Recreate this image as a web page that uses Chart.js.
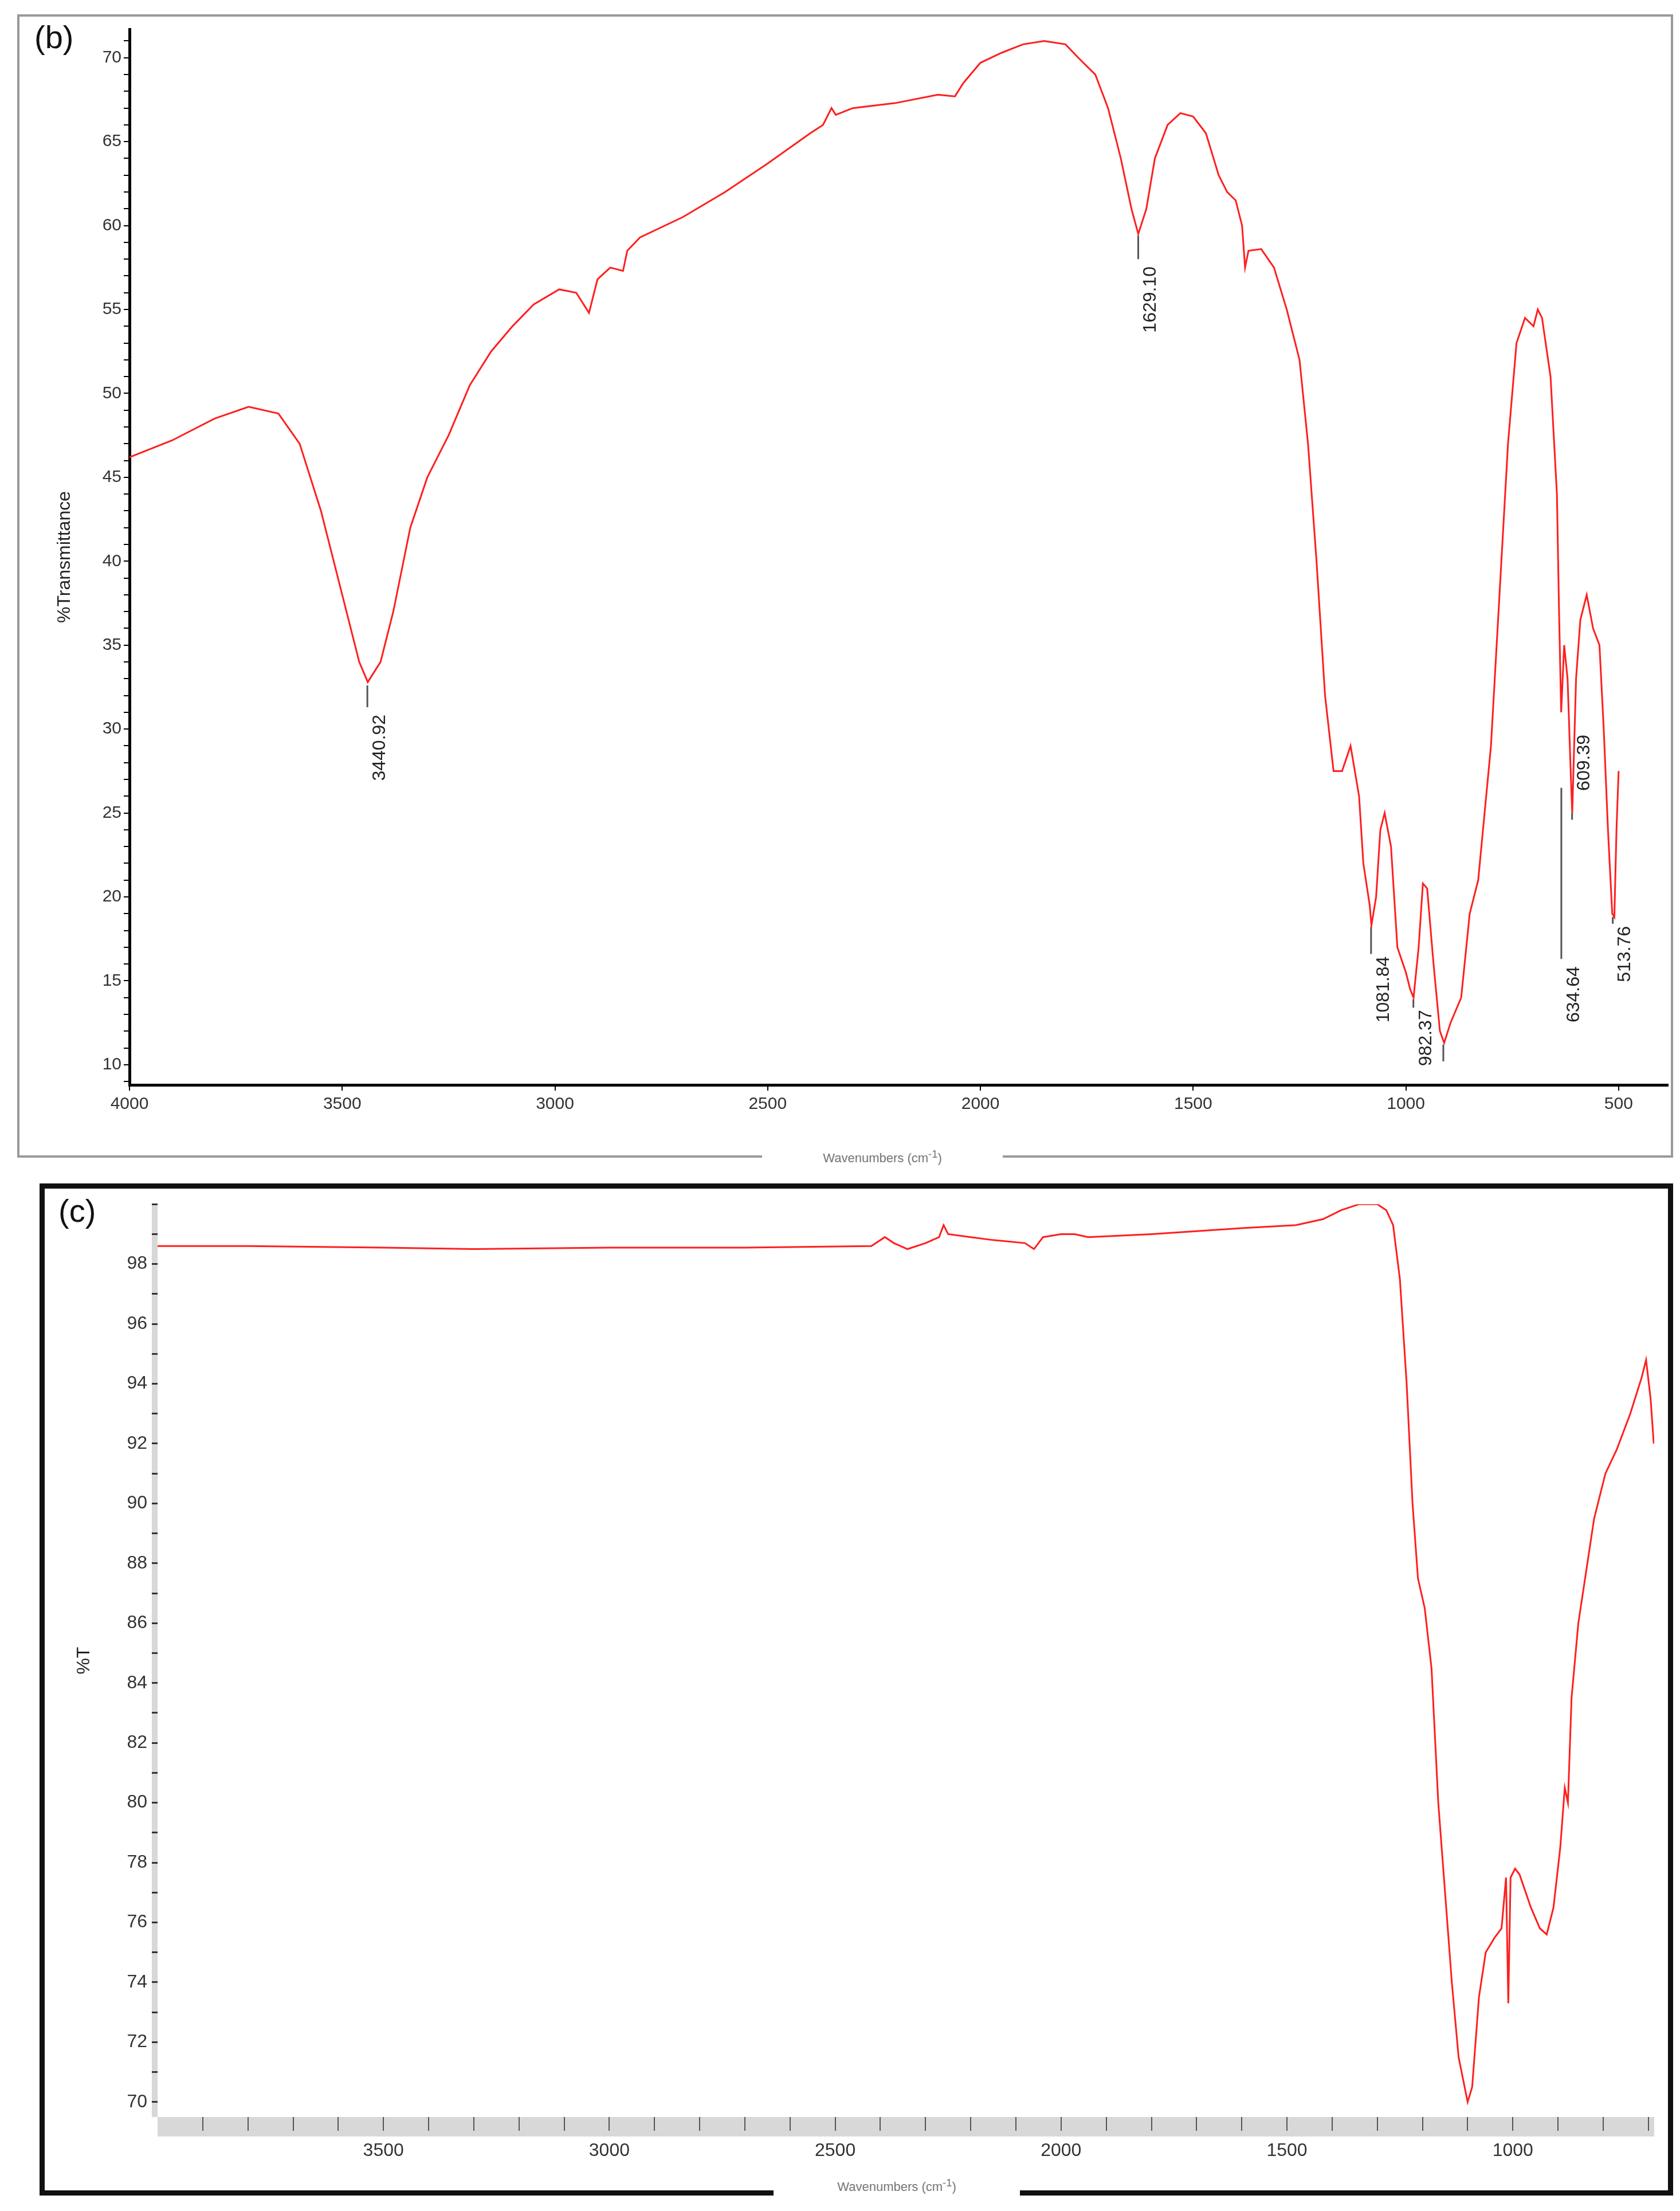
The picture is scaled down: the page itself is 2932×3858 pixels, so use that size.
<!DOCTYPE html>
<html>
<head>
<meta charset="utf-8">
<script src="https://cdn.jsdelivr.net/npm/chart.js@4.4.1/dist/chart.umd.min.js"></script>
<style>
  body { margin: 0; width: 2932px; height: 3858px; background: #fff; position: relative; font-family: "Liberation Sans", Arial, sans-serif; }
  .box { position: absolute; box-sizing: border-box; }
  #boxB { left: 30px; top: 25px; width: 2890px; height: 1995px; border: 4px solid #999; }
  #boxC { left: 69px; top: 2065px; width: 2851px; height: 1766px; border: 9px solid #111; }
  canvas { position: absolute; left: 0; top: 0; }
  .tag { position: absolute; font-size: 56px; color: #111; }
  .xt { position: absolute; background: #fff; color: #777; font-size: 22px; text-align: center; }
</style>
</head>
<body>
<div class="box" id="boxB"><canvas id="chartB" width="2882" height="1987"></canvas></div>
<div class="box" id="boxC"><canvas id="chartC" width="2833" height="1748"></canvas></div>
<div class="tag" style="left:60px;top:32px;">(b)</div>
<div class="tag" style="left:102px;top:2080px;">(c)</div>
<div class="xt" style="left:1330px;top:2003px;width:420px;">Wavenumbers (cm<sup>-1</sup>)</div>
<div class="xt" style="left:1350px;top:3798px;width:430px;height:40px;">Wavenumbers (cm<sup>-1</sup>)</div>
<script>
// panel (b) : OBMFs_TGA_reverse
const bWave = [4000,3900,3800,3720,3650,3600,3550,3500,3460,3440,3410,3380,3340,3300,3250,3200,3150,3100,3050,2990,2950,2920,2900,2870,2840,2830,2800,2700,2600,2500,2400,2370,2350,2340,2300,2200,2100,2060,2040,2000,1950,1900,1850,1800,1770,1730,1700,1670,1645,1629,1610,1590,1560,1530,1500,1470,1440,1420,1400,1385,1378,1370,1340,1310,1280,1250,1230,1210,1190,1170,1150,1130,1110,1100,1085,1081,1070,1060,1050,1035,1020,1000,990,982,970,960,950,935,920,910,895,870,850,830,800,780,760,740,720,700,690,680,660,645,640,635,628,620,612,609,600,590,575,560,545,535,525,515,510,505,500];
const bTrans = [46.2,47.2,48.5,49.2,48.8,47,43,38,34,32.8,34,37,42,45,47.5,50.5,52.5,54,55.3,56.2,56,54.8,56.8,57.5,57.3,58.5,59.3,60.5,62,63.7,65.5,66,67,66.6,67,67.3,67.8,67.7,68.5,69.7,70.3,70.8,71,70.8,70,69,67,64,61,59.5,61,64,66,66.7,66.5,65.5,63,62,61.5,60,57.5,58.5,58.6,57.5,55,52,47,40,32,27.5,27.5,29,26,22,19.5,18.3,20,24,25,23,17,15.5,14.5,14,17,20.8,20.5,16,12,11.3,12.5,14,19,21,29,38,47,53,54.5,54,55,54.5,51,44,37,31,35,33,27,25,33,36.5,38,36,35,30,24,19,18.8,24,27.5];
const bTicksX = [500,1000,1500,2000,2500,3000,3500,4000];
const bTicksY = [10,15,20,25,30,35,40,45,50,55,60,65,70];
// peak labels: [label, wavenumber, line top, line bottom, text top]
const bPeaks = [
  ['3440.92', 3440.92, 32.6, 31.3, 31.0],
  ['1629.10', 1629.10, 59.4, 58.0, 57.7],
  ['1081.84', 1081.84, 18.2, 16.6, 16.6],
  ['982.37', 982.37, 13.9, 13.4, 13.4],
  ['', 912, 11.2, 10.2, 0],
  ['634.64', 634.64, 26.5, 16.3, 16.0],
  ['609.39', 609.39, 25.0, 24.6, 29.8],
  ['513.76', 513.76, 18.8, 18.4, 18.4]
];

// panel (c)
const cWave = [4000,3800,3500,3300,3000,2700,2420,2390,2370,2340,2300,2270,2260,2250,2200,2150,2080,2060,2040,2000,1970,1940,1800,1600,1480,1420,1380,1340,1300,1280,1265,1250,1235,1222,1210,1195,1180,1165,1150,1135,1120,1100,1090,1075,1060,1040,1025,1015,1010,1005,995,985,960,940,925,910,895,885,878,870,855,840,820,795,770,740,715,705,695,688];
const cTrans = [98.6,98.6,98.55,98.5,98.55,98.55,98.6,98.9,98.7,98.5,98.7,98.9,99.3,99.0,98.9,98.8,98.7,98.5,98.9,99.0,99.0,98.9,99.0,99.2,99.3,99.5,99.8,100,100,99.8,99.3,97.5,94,90,87.5,86.5,84.5,80,77,74,71.5,70,70.5,73.5,75,75.5,75.8,77.5,73.3,77.5,77.8,77.6,76.5,75.8,75.6,76.5,78.5,80.5,80,83.5,86,87.5,89.5,91,91.8,93,94.2,94.8,93.5,92];
const cTicksX = [1000,1500,2000,2500,3000,3500];
const cTicksY = [70,72,74,76,78,80,82,84,86,88,90,92,94,96,98];

const tickFont = { family: 'Liberation Sans', size: 30 };

function pts(xs, ys) { return xs.map((x, i) => ({ x: x, y: ys[i] })); }
function range(a, b, s) { const r = []; for (let v = a; v <= b + 1e-9; v += s) r.push({ value: +v.toFixed(3) }); return r; }

const peakPlugin = {
  id: 'peaks',
  afterDatasetsDraw(chart) {
    const peaks = chart.options.plugins.peaks.list;
    if (!peaks) return;
    const ctx = chart.ctx, xs = chart.scales.x, ys = chart.scales.y;
    ctx.save();
    peaks.forEach(p => {
      const x = xs.getPixelForValue(p[1]);
      ctx.strokeStyle = '#555';
      ctx.lineWidth = 3;
      ctx.beginPath();
      ctx.moveTo(x, ys.getPixelForValue(p[2]));
      ctx.lineTo(x, ys.getPixelForValue(p[3]));
      ctx.stroke();
      if (!p[0]) return;
      ctx.save();
      ctx.translate(x + 22, ys.getPixelForValue(p[4]) + 4);
      ctx.rotate(-Math.PI / 2);
      ctx.fillStyle = '#222';
      ctx.font = '32px "Liberation Sans"';
      ctx.textAlign = 'right';
      ctx.textBaseline = 'middle';
      ctx.fillText(p[0], 0, 0);
      ctx.restore();
    });
    ctx.restore();
  }
};

// grey bands behind the axes of panel (c), drawn before the ticks
const bandPlugin = {
  id: 'band',
  beforeDraw(chart) {
    if (!chart.options.plugins.band.on) return;
    const ctx = chart.ctx, a = chart.chartArea;
    ctx.save();
    ctx.fillStyle = '#d8d8d8';
    ctx.fillRect(a.left, a.bottom, a.right - a.left, 34);
    ctx.fillRect(a.left - 10, a.top, 10, a.bottom - a.top);
    ctx.restore();
  }
};

// chart (b)
new Chart(document.getElementById('chartB'), {
  type: 'scatter',
  data: { datasets: [{ data: pts(bWave, bTrans), showLine: true, borderColor: '#ff1f1f', borderWidth: 3, pointRadius: 0, tension: 0 }] },
  plugins: [peakPlugin, bandPlugin],
  options: {
    responsive: false, animation: false, devicePixelRatio: 1,
    layout: { padding: { top: 1, right: 5 } },
    plugins: {
      legend: { display: false }, tooltip: { enabled: false },
      peaks: { list: bPeaks }, band: { on: false },
      title: { display: false }
    },
    scales: {
      x: {
        type: 'linear', reverse: true, min: 384, max: 4000,
        afterBuildTicks: s => { s.ticks = bTicksX.map(v => ({ value: v })); },
        afterFit: s => { s.height = 123; },
        grid: { drawOnChartArea: false, tickLength: 10, color: '#000', lineWidth: 2 },
        border: { color: '#000', width: 5 },
        ticks: { font: tickFont, color: '#333', maxRotation: 0, padding: 6, callback: v => String(v) }
      },
      y: {
        min: 8.8, max: 71.7,
        afterBuildTicks: s => { s.ticks = range(9, 71, 1); },
        afterFit: s => { s.width = 192; },
        grid: { drawOnChartArea: false, tickLength: 10, color: '#000', lineWidth: 2 },
        border: { color: '#000', width: 5 },
        ticks: { font: tickFont, color: '#333', autoSkip: false, padding: 4,
          callback: v => bTicksY.includes(v) ? String(v) : '' },
        title: { display: true, text: '%Transmittance', font: { family: 'Liberation Sans', size: 32 }, color: '#222', padding: 60 }
      }
    }
  }
});

// chart (c)
new Chart(document.getElementById('chartC'), {
  type: 'scatter',
  data: { datasets: [{ data: pts(cWave, cTrans), showLine: true, borderColor: '#ff1f1f', borderWidth: 3, pointRadius: 0, tension: 0 }] },
  plugins: [peakPlugin, bandPlugin],
  options: {
    responsive: false, animation: false, devicePixelRatio: 1,
    layout: { padding: { top: 3, right: 24 } },
    plugins: { legend: { display: false }, tooltip: { enabled: false }, peaks: { list: null }, band: { on: true } },
    scales: {
      x: {
        type: 'linear', reverse: true, min: 687, max: 4000,
        afterBuildTicks: s => { s.ticks = range(700, 3900, 100); },
        afterFit: s => { s.height = 128; },
        grid: { drawOnChartArea: false, tickLength: 24, color: '#555', lineWidth: 2 },
        border: { display: false },
        ticks: { font: { family: 'Liberation Sans', size: 32 }, color: '#333', maxRotation: 0, autoSkip: false, padding: 16,
          callback: v => cTicksX.includes(v) ? String(v) : '' }
      },
      y: {
        min: 69.5, max: 100,
        afterBuildTicks: s => { s.ticks = range(70, 100, 1); },
        afterFit: s => { s.width = 197; },
        grid: { drawOnChartArea: false, tickLength: 10, color: '#333', lineWidth: 3 },
        border: { display: false },
        ticks: { font: { family: 'Liberation Sans', size: 32 }, color: '#333', autoSkip: false, padding: 8,
          callback: v => cTicksY.includes(v) ? String(v) : '' },
        title: { display: true, text: '%T', font: { family: 'Liberation Sans', size: 32 }, color: '#222', padding: 50 }
      }
    }
  }
});
</script>
</body>
</html>
